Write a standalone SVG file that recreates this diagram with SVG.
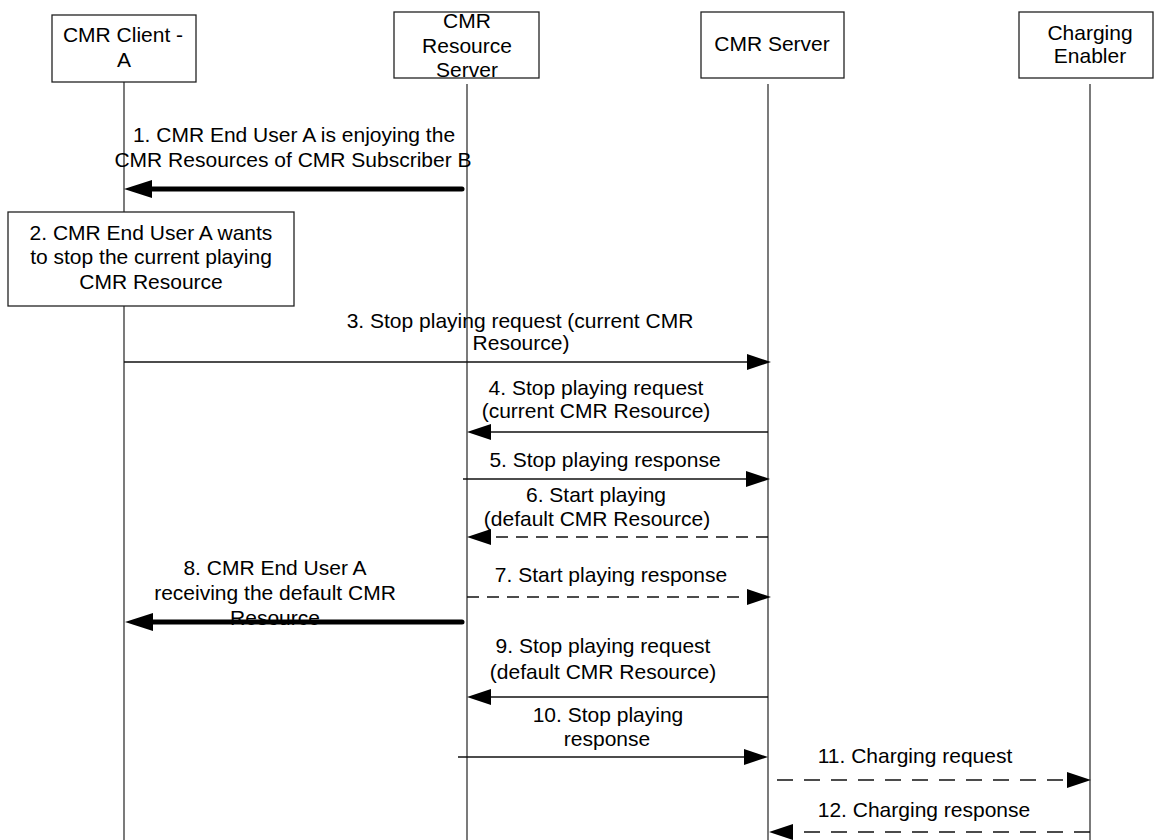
<svg xmlns="http://www.w3.org/2000/svg" width="1154" height="840" viewBox="0 0 1154 840">
<style>
text{font-family:"Liberation Sans",Arial,sans-serif;font-size:21px;fill:#000;text-anchor:middle}
.box{fill:#fff;stroke:#222;stroke-width:1.3}
.life{stroke:#333;stroke-width:1.3;fill:none}
.msg{stroke:#111;stroke-width:1.5;fill:none;marker-end:url(#ah)}
.dash{stroke-dasharray:12 8}
.dash2{stroke-dasharray:16 11}
.bold{stroke:#000;stroke-width:5;stroke-linecap:round;fill:none;marker-end:url(#ahb)}
</style>
<defs>
<marker id="ah" viewBox="0 0 24 16" refX="4" refY="8" markerWidth="24" markerHeight="16" markerUnits="userSpaceOnUse" orient="auto"><path d="M0,0 L24,8 L0,16 z" fill="#000"/></marker>
<marker id="ahb" viewBox="0 0 28 18" refX="6" refY="9" markerWidth="28" markerHeight="18" markerUnits="userSpaceOnUse" orient="auto"><path d="M0,0 L28,9 L0,18 z" fill="#000"/></marker>
</defs>
<rect width="1154" height="840" fill="#fff"/>
<g id="lifelines">
<line class="life" x1="124" y1="82" x2="124" y2="840"/>
<line class="life" x1="467" y1="84" x2="467" y2="840"/>
<line class="life" x1="768" y1="84" x2="768" y2="840"/>
<line class="life" x1="1090" y1="84" x2="1090" y2="840"/>
</g>
<g id="client">
<rect class="box" x="52" y="15" width="144" height="67"/>
<text x="123" y="42">CMR Client -</text>
<text x="124" y="67">A</text>
</g>
<g id="resource-server">
<rect class="box" x="394" y="12" width="145" height="66"/>
<text x="467" y="28">CMR</text>
<text x="467" y="53">Resource</text>
<text x="467" y="77">Server</text>
</g>
<g id="cmr-server">
<rect class="box" x="701" y="12" width="143" height="66"/>
<text x="772" y="51">CMR Server</text>
</g>
<g id="charging-enabler">
<rect class="box" x="1019" y="12" width="134" height="66"/>
<text x="1090" y="40">Charging</text>
<text x="1090" y="63">Enabler</text>
</g>
<g id="step2">
<rect class="box" x="8" y="212" width="286" height="94"/>
<text x="151" y="240">2. CMR End User A wants</text>
<text x="151" y="264">to stop the current playing</text>
<text x="151" y="289">CMR Resource</text>
</g>
<g id="labels">
<text x="294" y="142">1. CMR End User A is enjoying the</text>
<text x="293" y="167">CMR Resources of CMR Subscriber B</text>
<text x="520" y="328">3. Stop playing request (current CMR</text>
<text x="521" y="350">Resource)</text>
<text x="596" y="395">4. Stop playing request</text>
<text x="596" y="418">(current CMR Resource)</text>
<text x="605" y="467">5. Stop playing response</text>
<text x="596" y="502">6. Start playing</text>
<text x="597" y="526">(default CMR Resource)</text>
<text x="611" y="582">7. Start playing response</text>
<text x="275" y="575">8. CMR End User A</text>
<text x="275" y="600">receiving the default CMR</text>
<text x="275" y="625">Resource</text>
<text x="603" y="653">9. Stop playing request</text>
<text x="603" y="679">(default CMR Resource)</text>
<text x="608" y="722">10. Stop playing</text>
<text x="607" y="746">response</text>
<text x="915" y="763">11. Charging request</text>
<text x="924" y="817">12. Charging response</text>
</g>
<g id="connectors">
<line class="bold" x1="462" y1="189" x2="146" y2="189"/>
<line class="msg" x1="124" y1="362" x2="751" y2="362"/>
<line class="msg" x1="768" y1="432" x2="487" y2="432"/>
<line class="msg" x1="463" y1="479" x2="750" y2="479"/>
<line class="msg dash" x1="768" y1="537" x2="487" y2="537"/>
<line class="msg dash" x1="467" y1="597" x2="751" y2="597"/>
<line class="bold" x1="462" y1="622" x2="147" y2="622"/>
<line class="msg" x1="768" y1="697" x2="487" y2="697"/>
<line class="msg" x1="458" y1="757" x2="748" y2="757"/>
<line class="msg dash2" x1="777" y1="780" x2="1071" y2="780"/>
<line class="msg dash2" x1="1090" y1="832" x2="789" y2="832"/>
</g>
</svg>
